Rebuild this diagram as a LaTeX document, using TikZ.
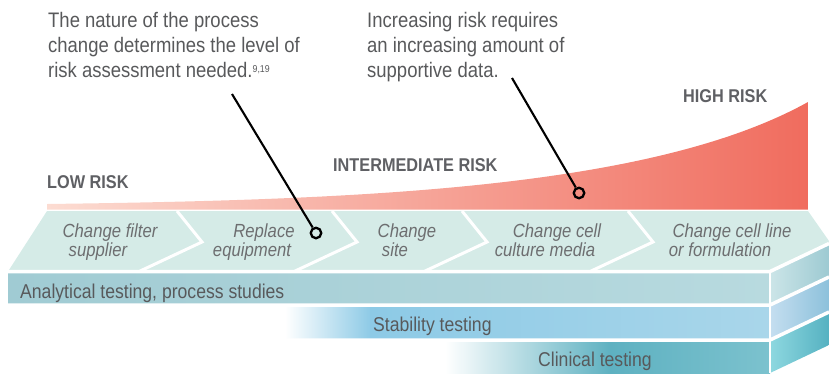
\documentclass[tikz,border=0pt]{standalone}
\usepackage{fontspec}
\setmainfont{Liberation Sans}[FakeStretch=0.88]
\usepackage{tikz}
\definecolor{txtgray}{HTML}{58595B}
\definecolor{riskgray}{HTML}{5F6064}
\definecolor{chgray}{HTML}{6D6E70}
\definecolor{riskA}{HTML}{FCDCD2}
\definecolor{riskB}{HTML}{F06C5E}
\definecolor{mint}{HTML}{D5EBE7}
\definecolor{anaA}{HTML}{A0CBD3}
\definecolor{anaB}{HTML}{B8DADF}
\definecolor{anaSideA}{HTML}{CCE5E8}
\definecolor{anaSideB}{HTML}{9DCAD2}
\definecolor{stabA}{HTML}{8DCAE6}
\definecolor{stabB}{HTML}{A9D6EA}
\definecolor{stabSideA}{HTML}{C5DEF0}
\definecolor{stabSideB}{HTML}{8CC1DB}
\definecolor{clinA}{HTML}{5EB1C1}
\definecolor{clinB}{HTML}{7CC2CE}
\definecolor{clinSideA}{HTML}{8ED8E0}
\definecolor{clinSideB}{HTML}{55B1C1}
\tikzset{
  note/.style={anchor=north west,align=left,inner sep=0pt,text=txtgray,font=\fontsize{21}{25}\selectfont},
  risk/.style={anchor=base west,inner sep=0pt,text=riskgray,font=\bfseries\fontsize{18.5}{22}\selectfont},
  change/.style={anchor=north,align=center,inner sep=0pt,text=chgray,font=\itshape\fontsize{19}{17}\selectfont},
  layer/.style={anchor=base west,inner sep=0pt,text=txtgray,font=\fontsize{20}{24}\selectfont},
  divider/.style={white,line width=3.5pt},
  dot/.style={circle,draw=black,line width=2.3pt,minimum size=10.5pt,inner sep=0pt},
  pointer/.style={black,line width=2.1pt}
}
\newcommand{\skewbreak}{\\\hspace*{-24pt}}

\begin{document}
\begin{tikzpicture}[x=1pt,y=-1pt]
    \useasboundingbox (0,0) rectangle (829,373);
    % rising risk
    \shade[left color=riskA,right color=riskB] (47,204) .. controls (350,200) and (650,190) .. (808,102) -- (808,209.5) -- (47,209.5) -- cycle;
    % top face with the chevrons
    \fill[mint] (8,271.5) -- (47,211) -- (808,211) -- (829,241) -- (829,244) -- (770,271.5) -- cycle;
    \foreach \x in {177,332,462,628}
      \draw[divider,line width=3pt] (\x,211) -- ++(25,31) -- ++(-64,30);
    % front faces
    \shade[left color=anaA,right color=anaB] (8,271.5) rectangle (770,305);
    \shade[left color=white,right color=stabA] (285,305) rectangle (371,340);
    \shade[left color=stabA,right color=stabB] (370,305) rectangle (770,340);
    \shade[left color=white,right color=clinA] (445,340) rectangle (611,373);
    \shade[left color=clinA,right color=clinB] (610,340) rectangle (770,373);
    % side faces
    \shade[left color=anaSideA,right color=anaSideB] (770,271.5) -- (829,243.5) -- (829,277) -- (770,305) -- cycle;
    \shade[left color=stabSideA,right color=stabSideB] (770,305) -- (829,277) -- (829,312) -- (770,340) -- cycle;
    \shade[left color=clinSideA,right color=clinSideB] (770,340) -- (829,312) -- (829,345) -- (770,373) -- cycle;
    \draw[divider] (0,271.5) -- (770,271.5) -- (829,243.5);
    \draw[divider] (0,305) -- (770,305) -- (829,277);
    \draw[divider] (0,340) -- (770,340) -- (829,312);
    \draw[white,line width=1.5pt] (770,271.5) -- (770,373);
    % texts
    \node[note] (noteA) at (48,12) {The nature of the process\\change determines the level of\\risk assessment needed.{\fontsize{10}{10}\selectfont\raisebox{5pt}{9,19}}};
    \node[note] (noteB) at (367,12) {Increasing risk requires\\an increasing amount of\\supportive data.};
    \node[risk] (low) at (47,188) {LOW RISK};
    \node[risk] (mid) at (333,171) {INTERMEDIATE RISK};
    \node[risk] (high) at (683,102) {HIGH RISK};
    \node[change] (chgA) at (110,224) {Change filter\skewbreak supplier};
    \node[change] (chgB) at (264,224) {Replace\skewbreak equipment};
    \node[change] (chgC) at (407,224) {Change\skewbreak site};
    \node[change] (chgD) at (557,224) {Change cell\skewbreak culture media};
    \node[change] (chgE) at (732,224) {Change cell line\skewbreak or formulation};
    \node[layer] (ana) at (20,298) {Analytical testing, process studies};
    \node[layer] (stab) at (373,331) {Stability testing};
    \node[layer] (clin) at (538,366) {Clinical testing};
    % pointers
    \node[dot] (dotA) at (316,233) {};
    \node[dot] (dotB) at (579,193) {};
    \coordinate (tipA) at (232,94);
    \coordinate (tipB) at (512,78);
    \draw[pointer] (tipA) -- (dotA);
    \draw[pointer] (tipB) -- (dotB);
\end{tikzpicture}
\end{document}
